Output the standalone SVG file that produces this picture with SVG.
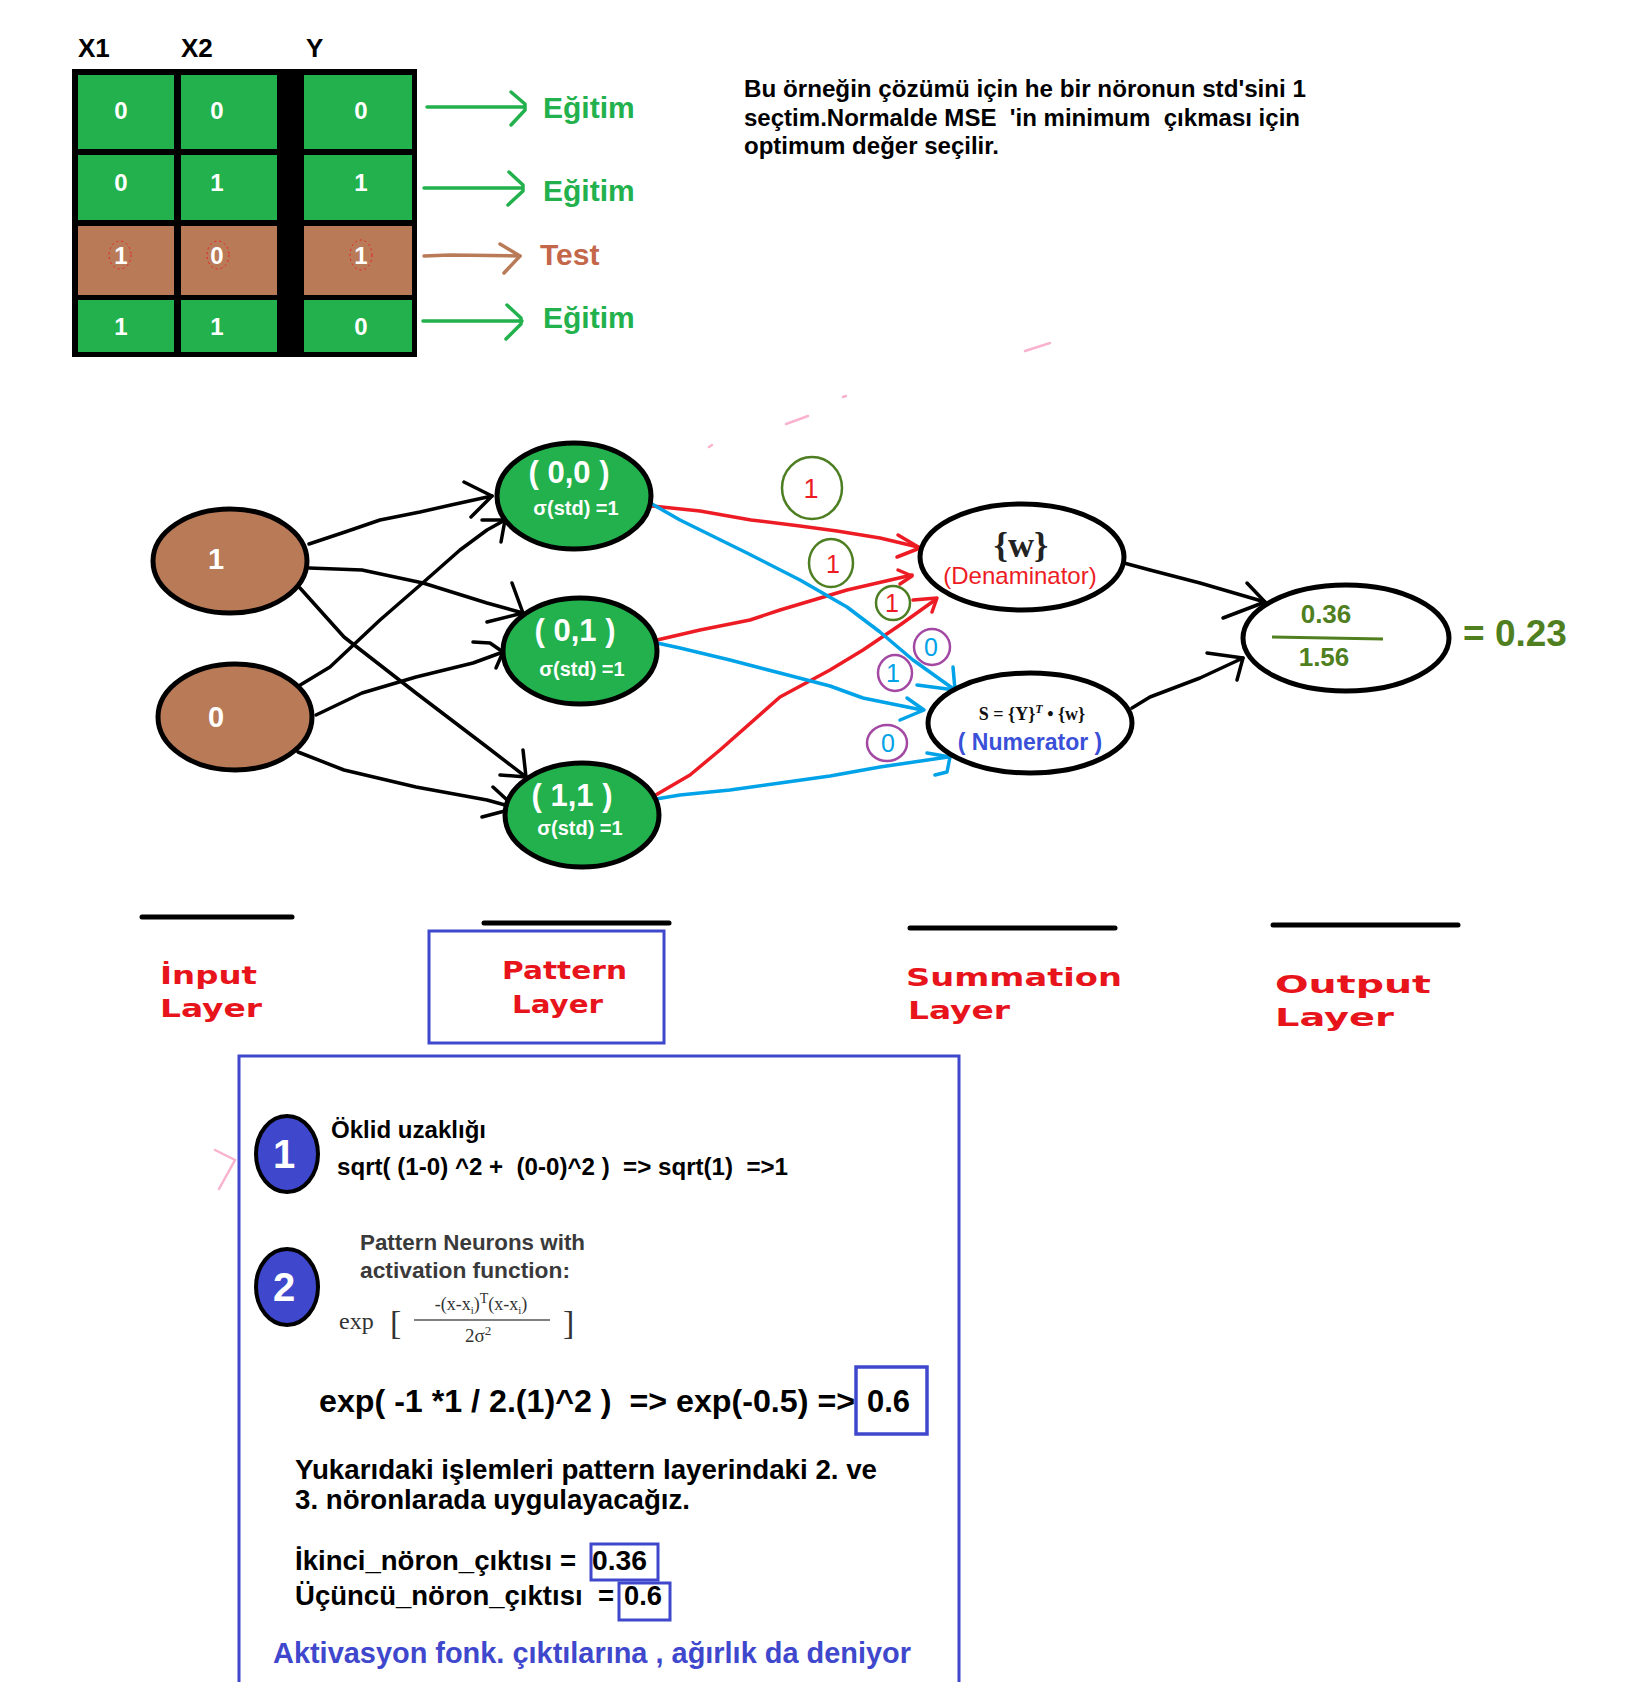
<svg xmlns="http://www.w3.org/2000/svg" width="1652" height="1682" viewBox="0 0 1652 1682">
<style>
  text { font-family: "Liberation Sans", Arial, sans-serif; }
  .hdr { font-size: 26px; font-weight: bold; fill: #000; }
  .cellv { font-size: 24px; font-weight: bold; fill: #fff; text-anchor: middle; }
  .green { fill: #22b14c; }
  .brown { fill: #b97a57; }
  .egit { font-size: 30px; font-weight: bold; fill: #22b14c; }
  .garr { fill: none; stroke: #22b14c; stroke-width: 3.5; stroke-linecap: round; stroke-linejoin: round; }
  .barr { fill: none; stroke: #b97a57; stroke-width: 3.5; stroke-linecap: round; stroke-linejoin: round; }
  .note { font-size: 23px; font-weight: bold; fill: #000; }
  .inode { fill: #b97a57; stroke: #000; stroke-width: 5; }
  .pnode { fill: #22b14c; stroke: #000; stroke-width: 5; }
  .wnode { fill: #fff; stroke: #000; stroke-width: 5; }
  .inlbl { font-size: 29px; font-weight: bold; fill: #fff; text-anchor: middle; }
  .plbl { font-size: 31px; font-weight: bold; fill: #fff; text-anchor: middle; }
  .slbl { font-size: 20px; font-weight: bold; fill: #fff; text-anchor: middle; }
  .blk { fill: none; stroke: #000; stroke-width: 3.5; stroke-linecap: round; stroke-linejoin: round; }
  .red { fill: none; stroke: #ed1c24; stroke-width: 3.5; stroke-linecap: round; stroke-linejoin: round; }
  .blu { fill: none; stroke: #00a2e8; stroke-width: 3.5; stroke-linecap: round; stroke-linejoin: round; }
  .gcirc { fill: none; stroke: #4e7e22; stroke-width: 2.5; }
  .pcirc { fill: none; stroke: #a349a4; stroke-width: 2.5; }
  .ctr { font-size: 25px; fill: #ed1c24; text-anchor: middle; }
  .ctb { font-size: 25px; fill: #00a2e8; text-anchor: middle; }
  .olbl { font-size: 26px; font-weight: bold; fill: #4f7f1f; text-anchor: middle; }
  .layer { font-family: "DejaVu Sans", Verdana, sans-serif; font-size: 25px; font-weight: bold; fill: #e8141c; }
  .lline { stroke: #000; stroke-width: 5; stroke-linecap: round; }
  .ibox { fill: none; stroke: #3f48cc; stroke-width: 3.5; }
  .bt { font-size: 27px; font-weight: bold; fill: #000; }
  .num { fill: #3f48cc; stroke: #000; stroke-width: 4; }
  .numt { font-size: 40px; font-weight: bold; fill: #fff; text-anchor: middle; }
  .serif { font-family: "Liberation Serif", "Times New Roman", serif; fill: #333; }
  .pink { fill: none; stroke: #f9b3cf; stroke-width: 2.5; stroke-linecap: round; }
</style>

<!-- data table -->
<g id="table">
  <rect x="72" y="69" width="345" height="288" fill="#000"/>
  <rect class="green" x="78" y="75" width="96" height="74"/>
  <rect class="green" x="181" y="75" width="96" height="74"/>
  <rect class="green" x="304" y="75" width="108" height="74"/>
  <rect class="green" x="78" y="155" width="96" height="65"/>
  <rect class="green" x="181" y="155" width="96" height="65"/>
  <rect class="green" x="304" y="155" width="108" height="65"/>
  <rect class="brown" x="78" y="226" width="96" height="69"/>
  <rect class="brown" x="181" y="226" width="96" height="69"/>
  <rect class="brown" x="304" y="226" width="108" height="69"/>
  <rect class="green" x="78" y="300" width="96" height="52"/>
  <rect class="green" x="181" y="300" width="96" height="52"/>
  <rect class="green" x="304" y="300" width="108" height="52"/>
  <text class="hdr" x="78" y="57">X1</text>
  <text class="hdr" x="181" y="57">X2</text>
  <text class="hdr" x="306" y="57">Y</text>
  <text class="cellv" x="121" y="119">0</text>
  <text class="cellv" x="217" y="119">0</text>
  <text class="cellv" x="361" y="119">0</text>
  <text class="cellv" x="121" y="191">0</text>
  <text class="cellv" x="217" y="191">1</text>
  <text class="cellv" x="361" y="191">1</text>
  <text class="cellv" x="121" y="264">1</text>
  <text class="cellv" x="217" y="264">0</text>
  <text class="cellv" x="361" y="264">1</text>
  <text class="cellv" x="121" y="335">1</text>
  <text class="cellv" x="217" y="335">1</text>
  <text class="cellv" x="361" y="335">0</text>
  <ellipse cx="120" cy="255" rx="11" ry="14" fill="none" stroke="#ed1c24" stroke-width="1" stroke-dasharray="2 3"/>
  <ellipse cx="218" cy="255" rx="11" ry="14" fill="none" stroke="#ed1c24" stroke-width="1" stroke-dasharray="2 3"/>
  <ellipse cx="361" cy="255" rx="11" ry="15" fill="none" stroke="#ed1c24" stroke-width="1" stroke-dasharray="2 3"/>
</g>

<g id="row-labels">
  <path class="garr" d="M427,107 L524,107"/>
  <polyline class="garr" points="511,92 525,104 525,110 511,125"/>
  <text class="egit" x="543" y="118">Eğitim</text>
  <path class="garr" d="M424,188 L522,188"/>
  <polyline class="garr" points="509,172 523,185 523,191 508,205"/>
  <text class="egit" x="543" y="201">Eğitim</text>
  <path class="barr" d="M424,256 L450,255 L520,256"/>
  <polyline class="barr" points="500,244 520,256 504,273"/>
  <text x="540" y="265" style="font-size:30px;font-weight:bold;fill:#c4664a;">Test</text>
  <path class="garr" d="M423,321 L522,321"/>
  <polyline class="garr" points="507,305 521,318 521,324 506,339"/>
  <text class="egit" x="543" y="328">Eğitim</text>
</g>

<g id="note">
  <text class="note" x="744" y="97" textLength="562" lengthAdjust="spacingAndGlyphs">Bu örneğin çözümü için he bir nöronun std'sini 1</text>
  <text class="note" x="744" y="126" textLength="556" lengthAdjust="spacingAndGlyphs" xml:space="preserve">seçtim.Normalde MSE  'in minimum  çıkması için</text>
  <text class="note" x="744" y="154" textLength="255" lengthAdjust="spacingAndGlyphs">optimum değer seçilir.</text>
</g>

<g id="pen-marks">
  <path class="pink" d="M1025,351 L1050,343"/>
  <path class="pink" d="M786,424 L808,416"/>
  <path class="pink" d="M843,397 L846,396"/>
  <path class="pink" d="M709,447 L712,445"/>
  <path class="pink" d="M215,1150 L235,1160 L219,1189"/>
</g>

<!-- connectors -->
<g id="connectors">
  <path class="blk" d="M309,544 L345,532 L380,520 L420,512 L451,505 L492,496"/>
  <polyline class="blk" points="464,482 492,496 471,517"/>
  <path class="blk" d="M292,690 L330,667 L380,620 L426,580 L460,550 L487,530 L505,520"/>
  <polyline class="blk" points="482,520 505,520 501,542"/>
  <path class="blk" d="M309,568 L362,570 L423,583 L487,603 L523,613"/>
  <polyline class="blk" points="512,583 523,613 487,622"/>
  <path class="blk" d="M316,715 L362,693 L416,677 L473,663 L503,652"/>
  <polyline class="blk" points="473,642 490,643 503,652 496,668"/>
  <path class="blk" d="M300,588 L344,637 L416,693 L487,747 L526,777"/>
  <polyline class="blk" points="523,750 526,777 500,775"/>
  <path class="blk" d="M298,752 L344,770 L416,787 L487,800 L516,808"/>
  <polyline class="blk" points="493,787 516,808 482,817"/>

  <path class="red" d="M652,506 L700,511 L751,520 L800,526 L837,531 L880,538 L918,547"/>
  <polyline class="red" points="898,535 920,548 897,557"/>
  <path class="red" d="M657,640 L700,630 L750,620 L780,610 L847,590 L912,575"/>
  <polyline class="red" points="898,570 912,576 900,584"/>
  <path class="red" d="M654,796 L690,775 L720,750 L780,697 L830,670 L863,650 L900,625 L935,600"/>
  <polyline class="red" points="913,600 937,598 932,612"/>

  <path class="blu" d="M652,504 L680,520 L747,553 L800,580 L847,607 L880,632 L913,660 L955,690"/>
  <polyline class="blu" points="953,667 955,690 917,685"/>
  <path class="blu" d="M657,643 L680,648 L730,660 L780,673 L830,686 L863,698 L922,710"/>
  <polyline class="blu" points="907,698 924,710 900,720"/>
  <path class="blu" d="M656,799 L680,795 L730,790 L780,783 L830,776 L880,767 L948,757"/>
  <polyline class="blu" points="927,753 950,757 947,772 935,775"/>

  <path class="blk" d="M1124,563 L1150,570 L1200,583 L1265,602"/>
  <polyline class="blk" points="1247,583 1265,602 1223,618"/>
  <path class="blk" d="M1132,708 L1150,697 L1200,678 L1243,658"/>
  <polyline class="blk" points="1207,653 1243,658 1237,680"/>
</g>

<!-- weight circles -->
<g id="weights">
  <ellipse class="gcirc" cx="812" cy="488" rx="30" ry="31"/>
  <text class="ctr" x="811" y="498" style="font-size:27px">1</text>
  <ellipse class="gcirc" cx="831" cy="563" rx="22" ry="24"/>
  <text class="ctr" x="833" y="573">1</text>
  <ellipse class="gcirc" cx="893" cy="603" rx="17" ry="17"/>
  <text class="ctr" x="892" y="612">1</text>
  <ellipse class="pcirc" cx="932" cy="647" rx="18" ry="18"/>
  <text class="ctb" x="931" y="656">0</text>
  <ellipse class="pcirc" cx="895" cy="673" rx="17" ry="18"/>
  <text class="ctb" x="893" y="682">1</text>
  <ellipse class="pcirc" cx="887" cy="743" rx="20" ry="18"/>
  <text class="ctb" x="888" y="752">0</text>
</g>

<!-- nodes -->
<g id="input-1">
  <ellipse class="inode" cx="230" cy="561" rx="77" ry="52"/>
  <text class="inlbl" x="216" y="569">1</text>
</g>
<g id="input-0">
  <ellipse class="inode" cx="235" cy="717" rx="77" ry="53"/>
  <text class="inlbl" x="216" y="727">0</text>
</g>
<g id="pattern-00">
  <ellipse class="pnode" cx="574" cy="496" rx="77" ry="53"/>
  <text class="plbl" x="569" y="483" xml:space="preserve">( 0,0 )</text>
  <text class="slbl" x="576" y="515">σ(std) =1</text>
</g>
<g id="pattern-01">
  <ellipse class="pnode" cx="580" cy="651" rx="77" ry="53"/>
  <text class="plbl" x="575" y="641" xml:space="preserve">( 0,1 )</text>
  <text class="slbl" x="582" y="676">σ(std) =1</text>
</g>
<g id="pattern-11">
  <ellipse class="pnode" cx="582" cy="815" rx="77" ry="52"/>
  <text class="plbl" x="572" y="806" xml:space="preserve">( 1,1 )</text>
  <text class="slbl" x="580" y="835">σ(std) =1</text>
</g>
<g id="denominator">
  <ellipse class="wnode" cx="1022" cy="557" rx="102" ry="53"/>
  <text x="1021" y="557" text-anchor="middle" style="font-family:'Liberation Serif','Times New Roman',serif;font-size:36px;font-weight:bold;fill:#222">{w}</text>
  <text x="1020" y="584" text-anchor="middle" style="font-size:24px;fill:#ed1c24">(Denaminator)</text>
</g>
<g id="numerator">
  <ellipse class="wnode" cx="1030" cy="723" rx="102" ry="50"/>
  <text x="1032" y="720" text-anchor="middle" style="font-family:'Liberation Serif','Times New Roman',serif;font-size:18px;font-weight:bold;fill:#111" xml:space="preserve">S = {Y}<tspan dy="-7" style="font-size:12px;font-style:italic">T</tspan><tspan dy="7"> • {w}</tspan></text>
  <text x="1030" y="750" text-anchor="middle" style="font-size:23px;font-weight:bold;fill:#3a50d8" xml:space="preserve">( Numerator )</text>
</g>
<g id="output">
  <ellipse class="wnode" cx="1346" cy="638" rx="103" ry="53"/>
  <text class="olbl" x="1326" y="623">0.36</text>
  <line x1="1272" y1="637" x2="1383" y2="639" stroke="#4f7f1f" stroke-width="3"/>
  <text class="olbl" x="1324" y="666">1.56</text>
</g>
<text x="1463" y="646" style="font-size:37px;font-weight:bold;fill:#4f7f1f">= 0.23</text>

<!-- layer labels -->
<g id="layer-labels">
  <line class="lline" x1="142" y1="917" x2="292" y2="917"/>
  <line class="lline" x1="484" y1="923" x2="669" y2="923"/>
  <line class="lline" x1="910" y1="928" x2="1115" y2="928"/>
  <line class="lline" x1="1273" y1="925" x2="1458" y2="925"/>
  <rect x="429" y="931" width="235" height="112" fill="none" stroke="#3f48cc" stroke-width="3"/>
  <text class="layer" x="160" y="984" textLength="97" lengthAdjust="spacingAndGlyphs">İnput</text>
  <text class="layer" x="160" y="1017" textLength="102" lengthAdjust="spacingAndGlyphs">Layer</text>
  <text class="layer" x="502" y="979" textLength="125" lengthAdjust="spacingAndGlyphs">Pattern</text>
  <text class="layer" x="512" y="1013" textLength="91" lengthAdjust="spacingAndGlyphs">Layer</text>
  <text class="layer" x="906" y="986" textLength="216" lengthAdjust="spacingAndGlyphs">Summation</text>
  <text class="layer" x="908" y="1019" textLength="102" lengthAdjust="spacingAndGlyphs">Layer</text>
  <text class="layer" x="1275" y="993" textLength="156" lengthAdjust="spacingAndGlyphs">Output</text>
  <text class="layer" x="1275" y="1026" textLength="119" lengthAdjust="spacingAndGlyphs">Layer</text>
</g>

<!-- explanation box -->
<g id="explanation">
  <path d="M239,1682 L239,1056 L959,1056 L959,1682" fill="none" stroke="#3f48cc" stroke-width="3"/>
  <ellipse class="num" cx="287" cy="1154" rx="31" ry="38"/>
  <text class="numt" x="284" y="1168">1</text>
  <ellipse class="num" cx="287" cy="1287" rx="31" ry="38"/>
  <text class="numt" x="284" y="1301">2</text>
  <text x="331" y="1138" style="font-size:24px;font-weight:bold" textLength="155" lengthAdjust="spacingAndGlyphs">Öklid uzaklığı</text>
  <text x="337" y="1175" style="font-size:23px;font-weight:bold" textLength="451" lengthAdjust="spacingAndGlyphs" xml:space="preserve">sqrt( (1-0) ^2 +  (0-0)^2 )  =&gt; sqrt(1)  =&gt;1</text>
  <text x="360" y="1250" style="font-size:22px;font-weight:bold;fill:#3a3a3a" textLength="225" lengthAdjust="spacingAndGlyphs">Pattern Neurons with</text>
  <text x="360" y="1278" style="font-size:22px;font-weight:bold;fill:#3a3a3a" textLength="210" lengthAdjust="spacingAndGlyphs">activation function:</text>
  <text class="serif" x="339" y="1329" style="font-size:24px">exp</text>
  <text class="serif" x="390" y="1334" style="font-size:34px">[</text>
  <text class="serif" x="563" y="1334" style="font-size:34px">]</text>
  <text class="serif" x="481" y="1310" text-anchor="middle" style="font-size:18px">-(x-x<tspan dy="4" style="font-size:11px">i</tspan><tspan dy="-4">)</tspan><tspan dy="-7" style="font-size:14px">T</tspan><tspan dy="7">(x-x</tspan><tspan dy="4" style="font-size:11px">i</tspan><tspan dy="-4">)</tspan></text>
  <line x1="414" y1="1320" x2="550" y2="1320" stroke="#555" stroke-width="1.5"/>
  <text class="serif" x="478" y="1342" text-anchor="middle" style="font-size:19px">2σ<tspan dy="-7" style="font-size:13px">2</tspan></text>
  <text x="319" y="1412" style="font-size:31px;font-weight:bold" textLength="536" lengthAdjust="spacingAndGlyphs" xml:space="preserve">exp( -1 *1 / 2.(1)^2 )  =&gt; exp(-0.5) =&gt;</text>
  <text x="867" y="1412" style="font-size:31px;font-weight:bold">0.6</text>
  <rect class="ibox" x="856" y="1367" width="71" height="67"/>
  <text class="bt" x="295" y="1479" textLength="582" lengthAdjust="spacingAndGlyphs">Yukarıdaki işlemleri pattern layerindaki 2. ve</text>
  <text class="bt" x="295" y="1509" textLength="395" lengthAdjust="spacingAndGlyphs">3. nöronlarada uygulayacağız.</text>
  <text class="bt" x="295" y="1570" textLength="281" lengthAdjust="spacingAndGlyphs">İkinci_nöron_çıktısı =</text>
  <text class="bt" x="592" y="1570" textLength="55" lengthAdjust="spacingAndGlyphs">0.36</text>
  <rect x="591" y="1544" width="67" height="36" fill="none" stroke="#3f48cc" stroke-width="3"/>
  <text class="bt" x="295" y="1605" textLength="319" lengthAdjust="spacingAndGlyphs" xml:space="preserve">Üçüncü_nöron_çıktısı  =</text>
  <text class="bt" x="624" y="1605" textLength="38" lengthAdjust="spacingAndGlyphs">0.6</text>
  <rect x="619" y="1583" width="51" height="37" fill="none" stroke="#3f48cc" stroke-width="3"/>
  <text x="273" y="1663" style="font-size:29px;font-weight:bold;fill:#3f48cc" textLength="638" lengthAdjust="spacingAndGlyphs">Aktivasyon fonk. çıktılarına , ağırlık da deniyor</text>
</g>
</svg>
